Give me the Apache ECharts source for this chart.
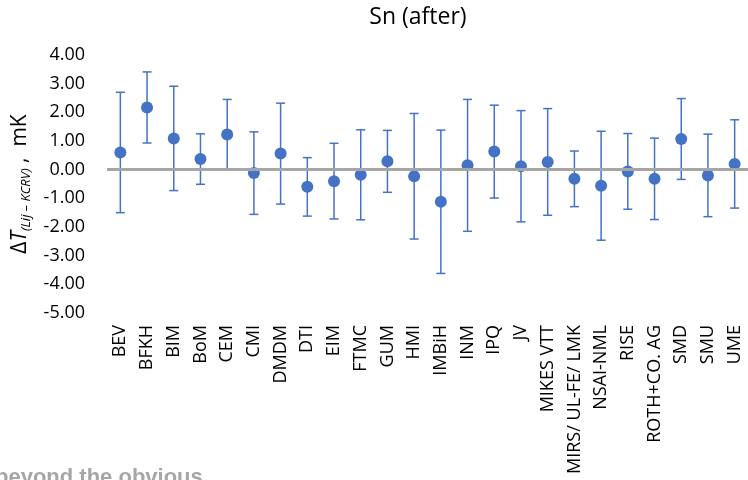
<!DOCTYPE html>
<head>
    <title>ECharts</title>
    <script src="https://cdn.jsdelivr.net/npm/echarts@6/dist/echarts.min.js"></script>
</head>
<body style="margin:0">
    <div id="main" style="width:748px;height:480px"></div>
    <script type="text/javascript">
        // participants
        var labs = ['BEV', 'BFKH', 'BIM', 'BoM', 'CEM', 'CMI', 'DMDM', 'DTI', 'EIM', 'FTMC', 'GUM', 'HMI',
            'IMBiH', 'INM', 'IPQ', 'JV', 'MIKES VTT', 'MIRS/ UL-FE/ LMK', 'NSAI-NML', 'RISE',
            'ROTH+CO. AG', 'SMD', 'SMU', 'UME'];
        // deviation from KCRV, mK
        var dT = [0.60, 2.17, 1.09, 0.37, 1.23, -0.12, 0.56, -0.60, -0.40, -0.18, 0.29, -0.23,
            -1.12, 0.15, 0.63, 0.12, 0.27, -0.32, -0.56, -0.06, -0.32, 1.07, -0.20, 0.20];
        // expanded uncertainty (half length of bar), mK
        var U = [2.10, 1.24, 1.82, 0.88, 1.22, 1.44, 1.76, 1.02, 1.32, 1.57, 1.08, 2.19,
            2.50, 2.30, 1.62, 1.94, 1.86, 0.97, 1.90, 1.32, 1.42, 1.41, 1.44, 1.54];

        var bars = [];
        for (var i = 0; i < labs.length; i++) {
            bars.push([i, dT[i] - U[i], dT[i] + U[i]]);
        }

        var blue = '#4472C4';
        var fnt = 'Open Sans';

        var myChart = echarts.init(document.getElementById('main'));

        var option = {
            animation: false,
            title: {
                text: 'Sn (after)',
                left: 413,
                top: 1,
                textAlign: 'center',
                textStyle: {fontFamily: fnt, fontSize: 23, fontWeight: 'normal', color: '#000'}
            },
            grid: {left: 107, right: -7, top: 55, bottom: 167},
            xAxis: {
                type: 'category',
                data: labs,
                axisLine: {show: false},
                axisTick: {show: false},
                axisLabel: {rotate: 90, margin: 12, interval: 0, fontFamily: fnt, fontSize: 18, color: '#000'}
            },
            yAxis: {
                type: 'value',
                min: -5,
                max: 4,
                interval: 1,
                splitLine: {show: false},
                axisLine: {show: false},
                axisTick: {show: false},
                axisLabel: {
                    margin: 22, fontFamily: fnt, fontSize: 18, color: '#000',
                    formatter: function (v) { return v.toFixed(2); }
                },
                name: '{d|Δ}{t|T}{s|(Lij – KCRV)}{m| ,  mK}',
                nameLocation: 'middle',
                nameRotate: 90,
                nameGap: 72,
                nameTextStyle: {
                    rich: {
                        d: {fontFamily: fnt, fontSize: 21, color: '#000', lineHeight: 26},
                        t: {fontFamily: fnt, fontSize: 21, fontStyle: 'italic', color: '#000', lineHeight: 26},
                        s: {fontFamily: fnt, fontSize: 13, fontStyle: 'italic', color: '#000', lineHeight: 16, verticalAlign: 'bottom'},
                        m: {fontFamily: fnt, fontSize: 21, color: '#000', lineHeight: 26}
                    }
                }
            },
            series: [
                {
                    type: 'custom',
                    z: 2,
                    data: bars,
                    encode: {x: 0, y: [1, 2]},
                    renderItem: function (params, api) {
                        var top = api.coord([api.value(0), api.value(2)]);
                        var bot = api.coord([api.value(0), api.value(1)]);
                        var st = {stroke: blue, lineWidth: 1.5};
                        return {
                            type: 'group',
                            children: [
                                {type: 'line', shape: {x1: top[0], y1: top[1], x2: bot[0], y2: bot[1]}, style: st},
                                {type: 'line', shape: {x1: top[0] - 4.5, y1: top[1], x2: top[0] + 4.5, y2: top[1]}, style: st},
                                {type: 'line', shape: {x1: bot[0] - 4.5, y1: bot[1], x2: bot[0] + 4.5, y2: bot[1]}, style: st}
                            ]
                        };
                    },
                    markLine: {
                        silent: true,
                        symbol: 'none',
                        label: {show: false},
                        lineStyle: {color: '#A6A6A6', width: 3, type: 'solid'},
                        data: [{yAxis: 0}]
                    }
                },
                {
                    type: 'scatter',
                    z: 3,
                    data: dT,
                    symbolSize: 12,
                    itemStyle: {color: blue, opacity: 1}
                }
            ],
            graphic: [
                {
                    type: 'text',
                    left: -5,
                    top: 467,
                    style: {text: 'beyond the obvious', fontFamily: 'Liberation Sans', fontWeight: 'bold', fontSize: 22, fill: '#A6A6A6'}
                }
            ]
        };

        myChart.setOption(option);
    </script>
</body>
